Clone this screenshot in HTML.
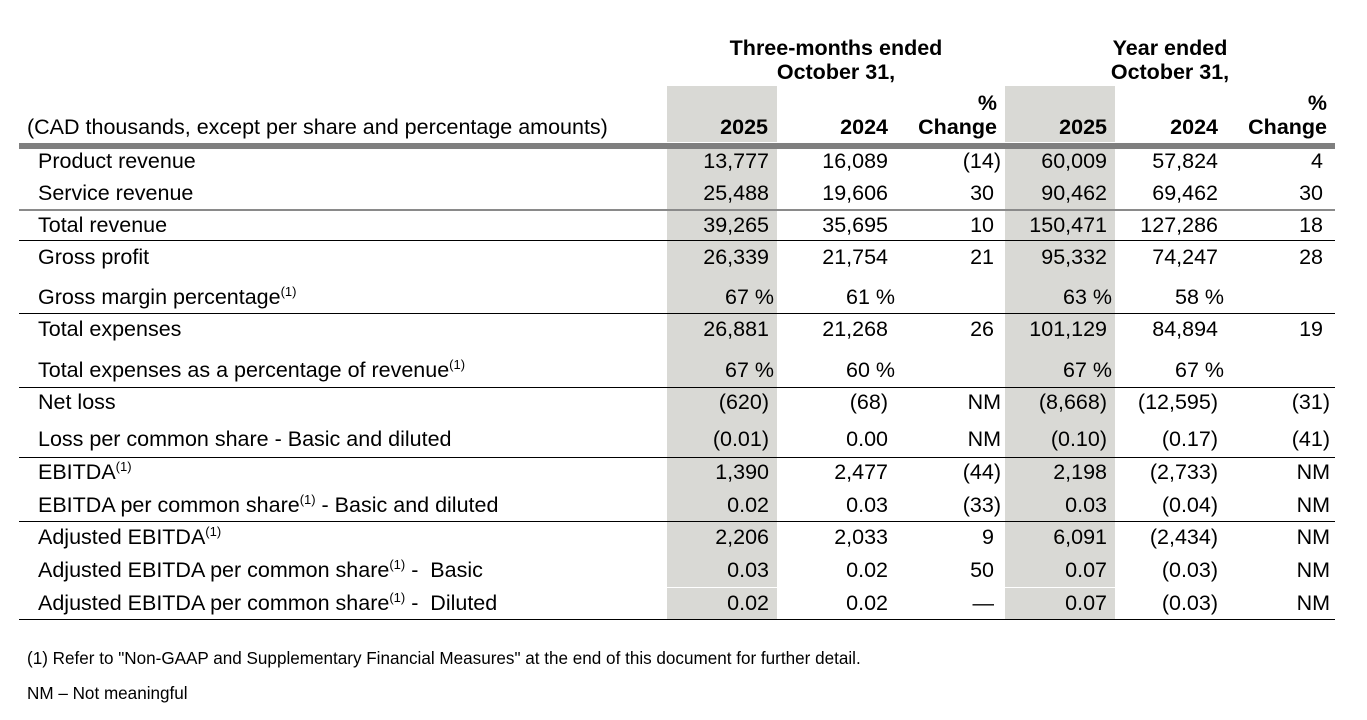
<!DOCTYPE html>
<html>
<head>
<meta charset="utf-8">
<style>
  html,body{margin:0;padding:0;background:#fff;}
  body{width:1367px;height:720px;overflow:hidden;position:relative;
       font-family:"Liberation Sans",Arial,sans-serif;font-size:21.5px;color:#000;}
  .r{position:absolute;left:0;width:1367px;height:24px;line-height:24px;white-space:nowrap;}
  .r span{position:absolute;white-space:nowrap;}
  .lab{left:38px;}
  .b{font-weight:bold;}
  .shade{position:absolute;background:#d9d9d5;}
  .hl{position:absolute;left:19px;width:1316px;}
  sup{font-size:13px;vertical-align:8px;line-height:0;}
  .a{right:598px}.ap{right:593px}
  .bb{right:479px}.bp{right:472px}
  .c{right:373px}.cp{right:366px}
  .d{right:260px}.dp{right:255px}
  .e{right:149px}.ep{right:143px}
  .f{right:44px}.fp{right:37px}
  .ctr{position:absolute;text-align:center;font-weight:bold;}
  .fn{position:absolute;left:27px;font-size:17.1px;line-height:20px;white-space:nowrap;}
</style>
</head>
<body>
<!-- shading -->
<div class="shade" style="left:667px;top:86px;width:110px;height:56px;"></div>
<div class="shade" style="left:1005px;top:86px;width:110px;height:56px;"></div>
<div class="shade" style="left:667px;top:149px;width:110px;height:470px;"></div>
<div class="shade" style="left:1005px;top:149px;width:110px;height:470px;"></div>
<div style="position:absolute;left:667px;top:587px;width:110px;height:1px;background:#fff;"></div>
<div style="position:absolute;left:1005px;top:587px;width:110px;height:1px;background:#fff;"></div>

<!-- lines -->
<div class="hl" style="top:143px;height:6px;background:#7f7f7f;"></div>
<div class="hl" style="top:209px;height:2px;background:#8a8a8a;"></div>
<div class="hl" style="top:240px;height:1px;background:#000;"></div>
<div class="hl" style="top:313px;height:1px;background:#000;"></div>
<div class="hl" style="top:387px;height:1px;background:#000;"></div>
<div class="hl" style="top:457px;height:1px;background:#000;"></div>
<div class="hl" style="top:521px;height:1px;background:#000;"></div>
<div class="hl" style="top:619px;height:1px;background:#000;"></div>

<!-- group headers -->
<div class="ctr" style="left:636px;width:400px;top:35.5px;line-height:24px;">Three-months ended</div>
<div class="ctr" style="left:636px;width:400px;top:59.5px;line-height:24px;">October 31,</div>
<div class="ctr" style="left:970px;width:400px;top:35.5px;line-height:24px;">Year ended</div>
<div class="ctr" style="left:970px;width:400px;top:59.5px;line-height:24px;">October 31,</div>

<div class="r b" style="top:90.5px;"><span style="right:370px">%</span><span style="right:40px">%</span></div>
<div class="r" style="top:114.5px;">
  <span style="left:27px">(CAD thousands, except per share and percentage amounts)</span>
  <span class="b" style="right:599px">2025</span>
  <span class="b" style="right:479px">2024</span>
  <span class="b" style="right:370px">Change</span>
  <span class="b" style="right:260px">2025</span>
  <span class="b" style="right:149px">2024</span>
  <span class="b" style="right:40px">Change</span>
</div>

<div class="r" style="top:148.5px;"><span class="lab">Product revenue</span><span class="a">13,777</span><span class="bb">16,089</span><span class="cp">(14)</span><span class="d">60,009</span><span class="e">57,824</span><span class="f">4</span></div>
<div class="r" style="top:180.5px;"><span class="lab">Service revenue</span><span class="a">25,488</span><span class="bb">19,606</span><span class="c">30</span><span class="d">90,462</span><span class="e">69,462</span><span class="f">30</span></div>
<div class="r" style="top:212.5px;"><span class="lab">Total revenue</span><span class="a">39,265</span><span class="bb">35,695</span><span class="c">10</span><span class="d">150,471</span><span class="e">127,286</span><span class="f">18</span></div>
<div class="r" style="top:244.5px;"><span class="lab">Gross profit</span><span class="a">26,339</span><span class="bb">21,754</span><span class="c">21</span><span class="d">95,332</span><span class="e">74,247</span><span class="f">28</span></div>
<div class="r" style="top:284.5px;"><span class="lab">Gross margin percentage<sup>(1)</sup></span><span class="ap">67 %</span><span class="bp">61 %</span><span class="dp">63 %</span><span class="ep">58 %</span></div>
<div class="r" style="top:316.5px;"><span class="lab">Total expenses</span><span class="a">26,881</span><span class="bb">21,268</span><span class="c">26</span><span class="d">101,129</span><span class="e">84,894</span><span class="f">19</span></div>
<div class="r" style="top:357.5px;"><span class="lab">Total expenses as a percentage of revenue<sup>(1)</sup></span><span class="ap">67 %</span><span class="bp">60 %</span><span class="dp">67 %</span><span class="ep">67 %</span></div>
<div class="r" style="top:389.5px;"><span class="lab">Net loss</span><span class="a">(620)</span><span class="bb">(68)</span><span class="cp">NM</span><span class="d">(8,668)</span><span class="e">(12,595)</span><span class="fp">(31)</span></div>
<div class="r" style="top:426.5px;"><span class="lab">Loss per common share - Basic and diluted</span><span class="a">(0.01)</span><span class="bb">0.00</span><span class="cp">NM</span><span class="d">(0.10)</span><span class="e">(0.17)</span><span class="fp">(41)</span></div>
<div class="r" style="top:459.5px;"><span class="lab">EBITDA<sup>(1)</sup></span><span class="a">1,390</span><span class="bb">2,477</span><span class="cp">(44)</span><span class="d">2,198</span><span class="e">(2,733)</span><span class="fp">NM</span></div>
<div class="r" style="top:492.5px;"><span class="lab">EBITDA per common share<sup>(1)</sup> - Basic and diluted</span><span class="a">0.02</span><span class="bb">0.03</span><span class="cp">(33)</span><span class="d">0.03</span><span class="e">(0.04)</span><span class="fp">NM</span></div>
<div class="r" style="top:524.5px;"><span class="lab">Adjusted EBITDA<sup>(1)</sup></span><span class="a">2,206</span><span class="bb">2,033</span><span class="c">9</span><span class="d">6,091</span><span class="e">(2,434)</span><span class="fp">NM</span></div>
<div class="r" style="top:557.5px;"><span class="lab">Adjusted EBITDA per common share<sup>(1)</sup> -&nbsp; Basic</span><span class="a">0.03</span><span class="bb">0.02</span><span class="c">50</span><span class="d">0.07</span><span class="e">(0.03)</span><span class="fp">NM</span></div>
<div class="r" style="top:590.5px;"><span class="lab">Adjusted EBITDA per common share<sup>(1)</sup> -&nbsp; Diluted</span><span class="a">0.02</span><span class="bb">0.02</span><span class="c">—</span><span class="d">0.07</span><span class="e">(0.03)</span><span class="fp">NM</span></div>

<div class="fn" style="top:649px;">(1) Refer to "Non-GAAP and Supplementary Financial Measures" at the end of this document for further detail.</div>
<div class="fn" style="top:684px;">NM – Not meaningful</div>
</body>
</html>
